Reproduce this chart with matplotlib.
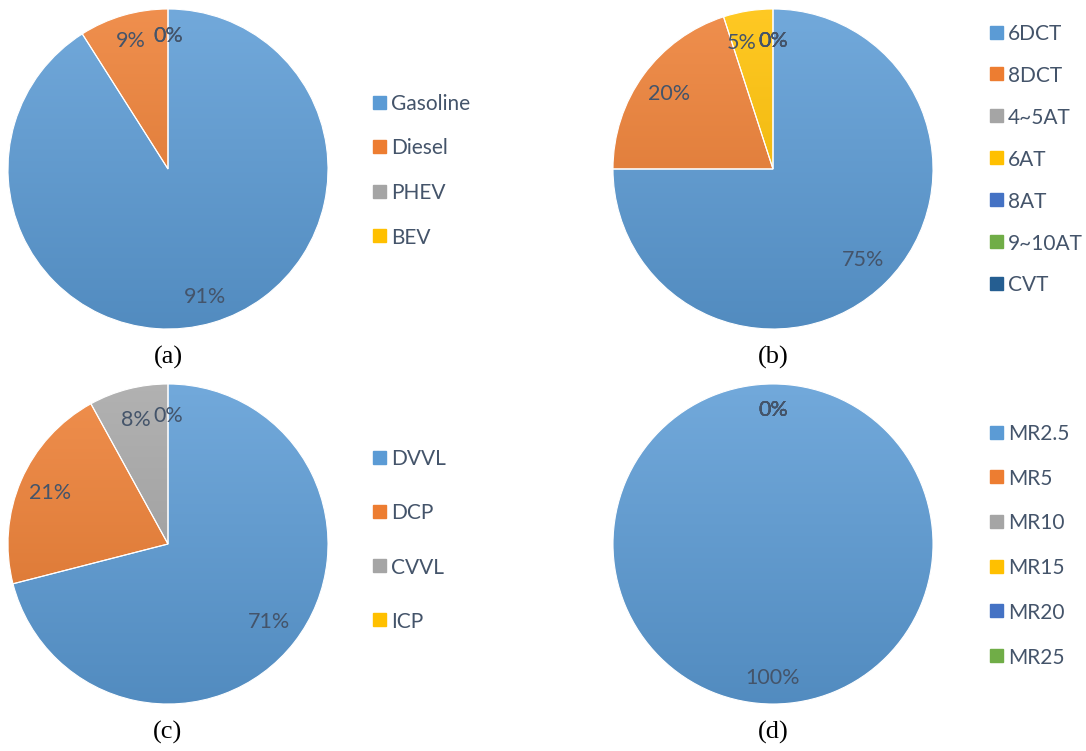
import numpy as np
import matplotlib
matplotlib.use("Agg")
import matplotlib.pyplot as plt
from matplotlib.colors import LinearSegmentedColormap, to_rgb
from matplotlib.patches import Rectangle

# shares in percent, one list per panel
fuel_labels = ["Gasoline", "Diesel", "PHEV", "BEV"]
fuel_share = [91, 9, 0, 0]

trans_labels = ["6DCT", "8DCT", "4~5AT", "6AT", "8AT", "9~10AT", "CVT"]
trans_share = [75, 20, 0, 5, 0, 0, 0]

valve_labels = ["DVVL", "DCP", "CVVL", "ICP"]
valve_share = [71, 21, 8, 0]

mr_labels = ["MR2.5", "MR5", "MR10", "MR15", "MR20", "MR25"]
mr_share = [100, 0, 0, 0, 0, 0]

captions = ["(a)", "(b)", "(c)", "(d)"]

PALETTE = ["#5B9BD5", "#ED7D31", "#A5A5A5", "#FFC000", "#4472C4", "#70AD47", "#255E91"]
TXT = "#44546A"
FONT = "Lato"

W, H = 1086, 751
fig = plt.figure(figsize=(W / 100, H / 100), dpi=100)


def px_ax(cx, cy, r):
    # axes box (figure fraction) for a pie of radius r px centred at (cx, cy) px
    return [(cx - r) / W, (H - cy - r) / H, 2 * r / W, 2 * r / H]


def shade(c, f):
    c = np.array(to_rgb(c))
    if f >= 0:
        return tuple(c + (1 - c) * f)
    return tuple(c * (1 + f))


def draw_pie(cx, cy, values, dist, nudge):
    ax = fig.add_axes(px_ax(cx, cy, 160))
    cols = PALETTE[:len(values)]
    wedges, _ = ax.pie(values, colors=cols, startangle=90, counterclock=False,
                       wedgeprops=dict(edgecolor="white", linewidth=0.8))
    grad = np.linspace(0, 1, 256).reshape(-1, 1)
    for i, (w, c, v) in enumerate(zip(wedges, cols, values)):
        cmap = LinearSegmentedColormap.from_list("g", [shade(c, 0.14), shade(c, -0.1)])
        im = ax.imshow(grad, cmap=cmap, extent=(-1, 1, -1, 1), origin="upper",
                       aspect="auto", zorder=0.5)
        im.set_clip_path(w)
        w.set_facecolor("none")
        w.set_zorder(1)
        if v == 0:
            w.set_linewidth(0)
        # empty slices get their label grouped at 12 o'clock
        ang = np.deg2rad(90 if v == 0 else (w.theta1 + w.theta2) / 2)
        x, y = dist * np.cos(ang), dist * np.sin(ang)
        ha = "center"
        if i in nudge:
            x, ha = nudge[i], "right"
        ax.text(x, y, "%d%%" % v, ha=ha, va="center", color=TXT, fontsize=15.5,
                family=FONT, zorder=3)
    ax.set_xlim(-1, 1)
    ax.set_ylim(-1, 1)
    ax.set_axis_off()
    return ax


def draw_legend(x, y0, dy, labels):
    for i, lab in enumerate(labels):
        y = y0 + i * dy
        fig.patches.append(Rectangle((x / W, (H - y - 6.5) / H), 12.5 / W, 13 / H,
                                     transform=fig.transFigure, color=PALETTE[i]))
        fig.text((x + 18) / W, (H - y) / H, lab, ha="left", va="center_baseline",
                 color=TXT, fontsize=15, family=FONT)


panels = [
    (168, 169, fuel_share, fuel_labels, 373, 102, 44.5, 0.83, {}),
    (773, 169, trans_share, trans_labels, 990, 32, 41.9, 0.8, {3: -0.1}),
    (168, 544, valve_share, valve_labels, 373, 457, 54.3, 0.8, {}),
    (773, 544, mr_share, mr_labels, 990, 432, 44.7, 0.84, {}),
]

for (cx, cy, vals, labs, lx, ly, ldy, dist, nudge), cap in zip(panels, captions):
    draw_pie(cx, cy, vals, dist, nudge)
    draw_legend(lx, ly, ldy, labs)
    fig.text(cx / W, (H - cy - 188) / H, cap, ha="center", va="center",
             fontsize=19, family="Liberation Serif", color="black")

fig.savefig("out.png", dpi=100)
